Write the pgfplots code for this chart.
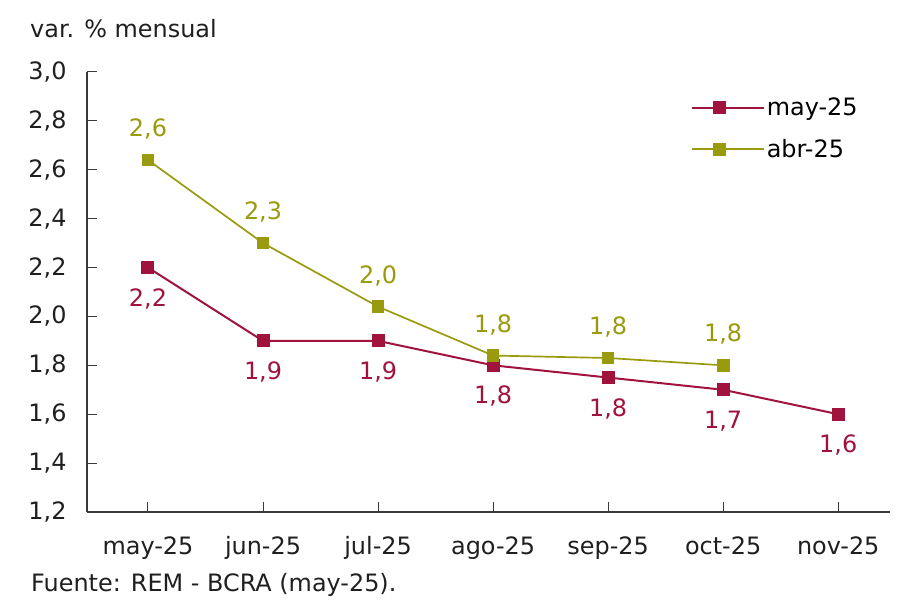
\documentclass[border=0pt]{standalone}
\usepackage{pgfplots}
\pgfplotsset{compat=1.18}
\usepackage{fontspec}
\setmainfont{DejaVu Sans}
\definecolor{crimson}{HTML}{A0133D}
\definecolor{olive}{HTML}{9A9A0E}
\definecolor{axisgray}{HTML}{3A3A3A}
\newcommand{\f}{\fontsize{24}{29}\selectfont}
\begin{document}
\begin{tikzpicture}
\begin{axis}[
    at={(87bp,88bp)}, anchor=south west,
    scale only axis,
    width=803bp, height=440bp,
    xmin=-0.53, xmax=6.45,
    ymin=1.2, ymax=3.0,
    axis x line=bottom, axis y line=left,
    axis line style={-, axisgray, line width=1.2pt},
    tick style={axisgray, line width=1pt},
    tick align=inside,
    major tick length=10bp,
    xtick={0,...,6},
    xticklabels={may-25,jun-25,jul-25,ago-25,sep-25,oct-25,nov-25},
    ytick={1.2,1.4,...,3.0},
    minor tick num=0,
    tick label style={font=\f, text=black!88},
    xticklabel style={yshift=-21bp},
    yticklabel style={xshift=-17bp},
    /pgf/number format/.cd, fixed, fixed zerofill, precision=1, use comma, assume math mode=true,
    /pgfplots/.cd,
    legend style={draw=none, fill=none, font=\f, at={(0.748,0.95)}, anchor=north west,
        row sep=18bp, /tikz/every even column/.append style={column sep=6bp}},
    legend cell align=left,
    legend image code/.code={
        \draw[mark repeat=2, mark phase=2, #1] plot coordinates {(0bp,0bp) (28bp,0bp) (56bp,0bp)};
        \path (56bp,0bp) -- (72bp,0bp);
    },
    clip=false,
]
\addplot[crimson, line width=2pt, mark=square*, mark size=5.5bp,
    point meta=explicit symbolic,
    nodes near coords, every node near coord/.style={font=\f, text=crimson, anchor=center, yshift=-31bp}]
    table[meta=lab] {
x y lab
0 2.20 {2,2}
1 1.90 {1,9}
2 1.90 {1,9}
3 1.80 {1,8}
4 1.75 {1,8}
5 1.70 {1,7}
6 1.60 {1,6}
};
\addlegendentry{may-25}
\addplot[olive, line width=1.7pt, mark=square*, mark size=5.5bp,
    point meta=explicit symbolic,
    nodes near coords, every node near coord/.style={font=\f, text=olive, anchor=center, yshift=31bp}]
    table[meta=lab] {
x y lab
0 2.64 {2,6}
1 2.30 {2,3}
2 2.04 {2,0}
3 1.84 {1,8}
4 1.83 {1,8}
5 1.80 {1,8}
};
\addlegendentry{abr-25}
\end{axis}
\node[anchor=base west, inner sep=0, font=\f, text=black!88] at (30bp,562bp) {var. \% mensual};
\node[anchor=base west, inner sep=0, font=\f, text=black!88] at (31bp,9bp) {Fuente: REM - BCRA (may-25).};
\pgfresetboundingbox
\path (0,0) rectangle (900bp,600bp);
\end{tikzpicture}
\end{document}
